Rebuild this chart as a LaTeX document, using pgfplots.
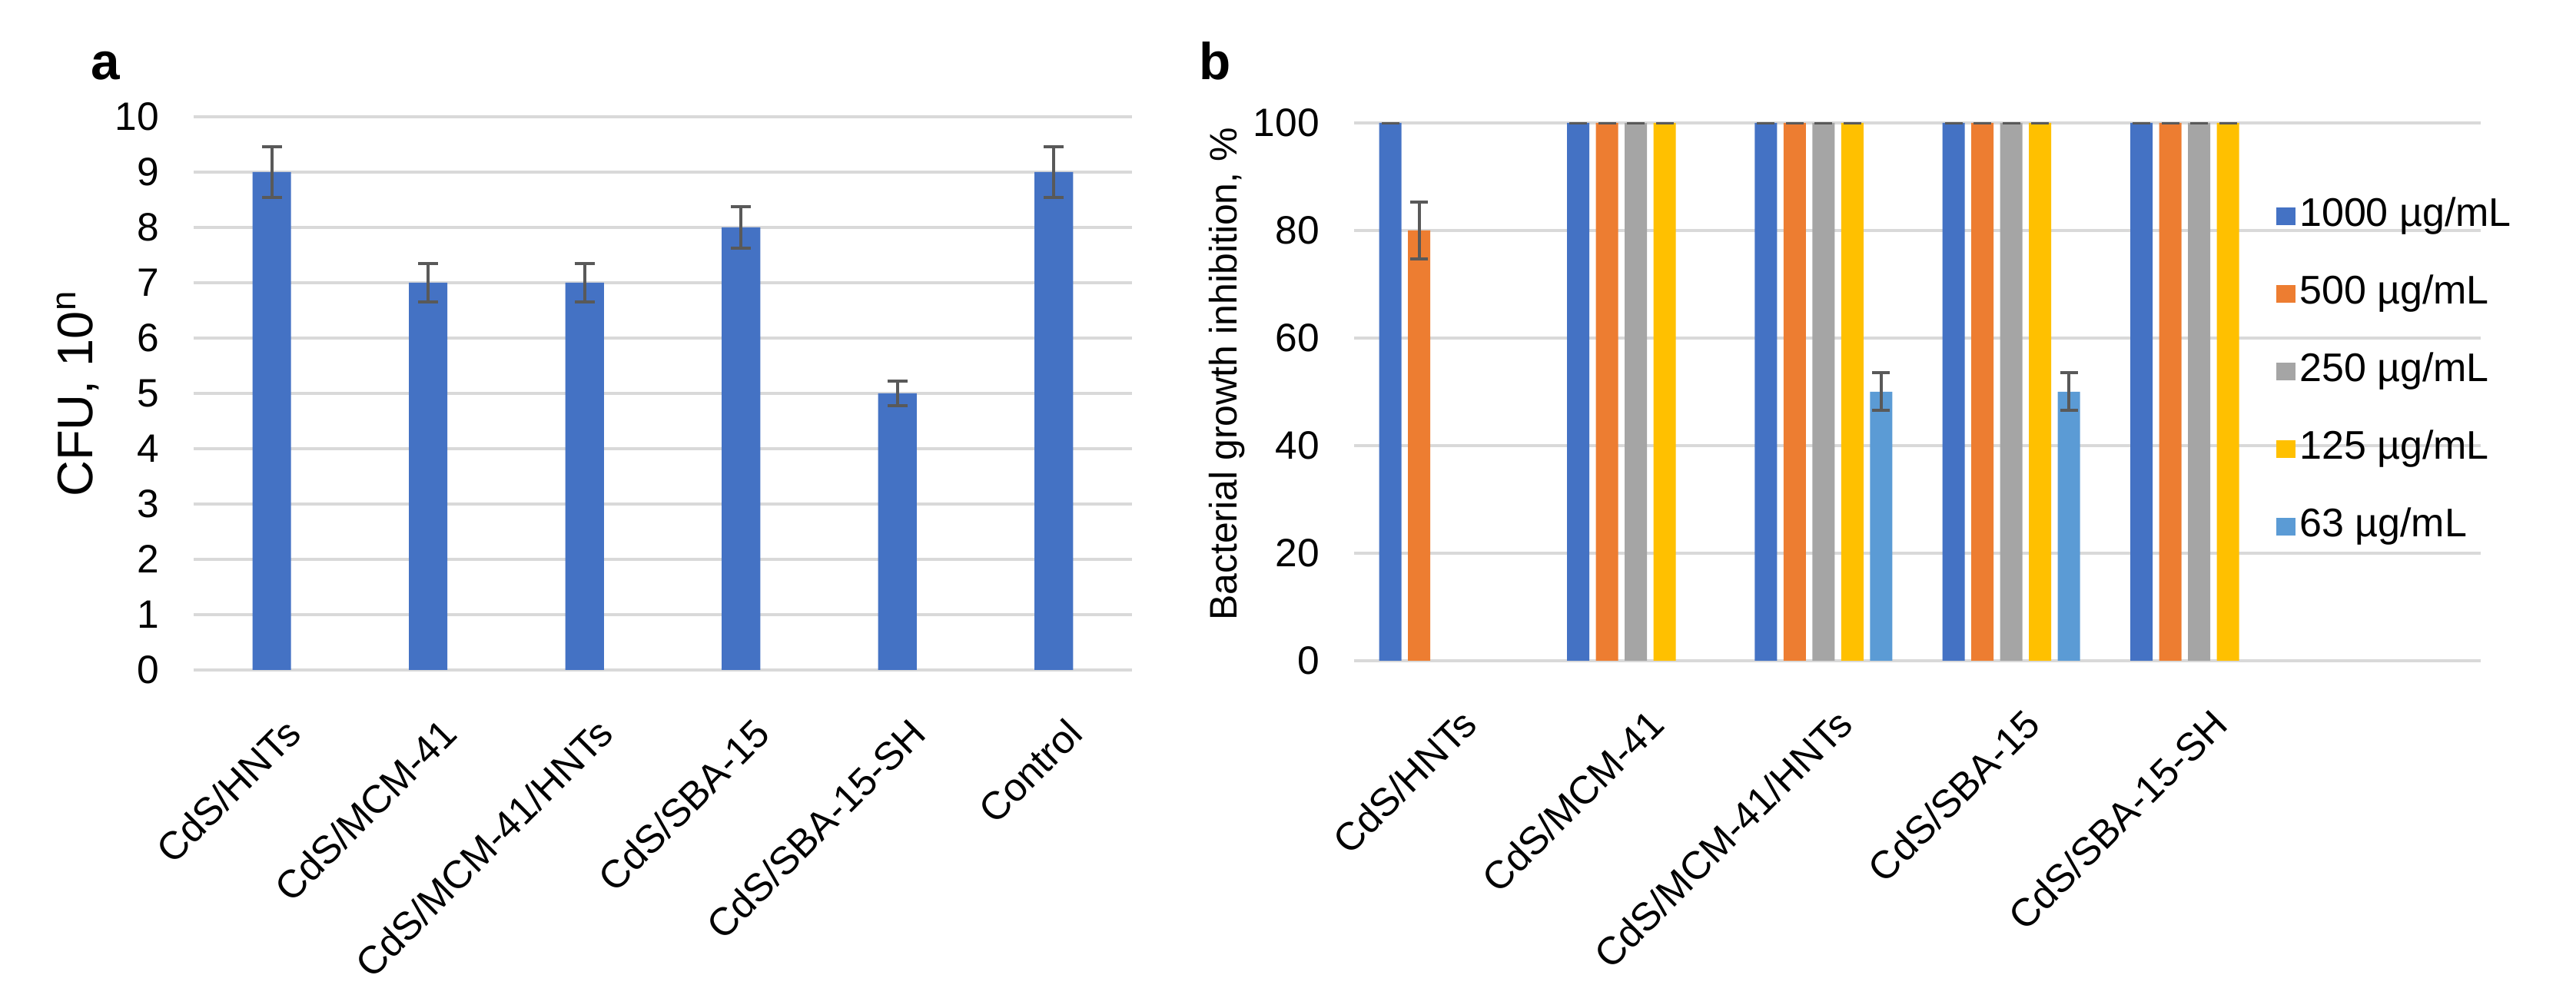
\documentclass[border=0pt]{standalone}
\usepackage{pgfplots}
\usepackage{pgfplotstable}
\pgfplotsset{compat=1.18}
\usepackage{fontspec}
\setmainfont{Liberation Sans}

\definecolor{xblue}{HTML}{4472C4}
\definecolor{xorange}{HTML}{ED7D31}
\definecolor{xgray}{HTML}{A5A5A5}
\definecolor{xgold}{HTML}{FFC000}
\definecolor{xlblue}{HTML}{5B9BD5}
\definecolor{gridc}{HTML}{D9D9D9}
\definecolor{errc}{HTML}{595959}

% panel a: CFU
\pgfplotstableread{
x y e
0 9 0.46
1 7 0.35
2 7 0.35
3 8 0.38
4 5 0.22
5 9 0.46
}\cfu

% panel b: inhibition, one table per concentration
\pgfplotstableread{
x y e
0 100 0
1 100 0
2 100 0
3 100 0
4 100 0
}\sA
\pgfplotstableread{
x y e
0 80 5.3
1 100 0
2 100 0
3 100 0
4 100 0
}\sB
\pgfplotstableread{
x y e
1 100 0
2 100 0
3 100 0
4 100 0
}\sC
\pgfplotstableread{
x y e
1 100 0
2 100 0
3 100 0
4 100 0
}\sD
\pgfplotstableread{
x y e
2 50 3.5
3 50 3.5
}\sE

\pgfplotsset{
  xl/.style={
    scale only axis,
    anchor=south west,
    axis line style={draw=none},
    tick style={draw=none},
    ymajorgrids,
    major grid style={line width=0.8pt, gridc},
    ybar,
    ymin=0,
    xmin=-0.5, xmax=5.5,
    /pgf/number format/assume math mode=true,
    yticklabel style={font=\fontsize{10.3}{12}\selectfont, xshift=-5.5pt},
    xticklabel style={font=\fontsize{10.2}{12}\selectfont, rotate=45, anchor=north east, yshift=-4pt},
  },
  eb/.style={
    error bars/.cd, y dir=both, y explicit,
    error bar style={draw=errc, line width=0.8pt},
    error mark options={rotate=90, mark size=#1, draw=errc, line width=0.8pt},
  },
}

\begin{document}
\begin{tikzpicture}
\useasboundingbox (0,0) rectangle (670.4pt,259pt);

\node[anchor=base west, inner sep=0pt, font=\bfseries\fontsize{13.5}{16}\selectfont] at (23.4pt,238.2pt) {a};
\node[anchor=base west, inner sep=0pt, font=\bfseries\fontsize{13.5}{16}\selectfont] at (311.8pt,238.2pt) {b};

\begin{axis}[xl,
  at={(50.4pt,84.6pt)}, width=244.2pt, height=144pt,
  ymax=10, ytick={0,...,10},
  bar width=10pt,
  xtick={0,...,5},
  xticklabels={CdS/HNTs,CdS/MCM-41,CdS/MCM-41/HNTs,CdS/SBA-15,CdS/SBA-15-SH,Control},
  ylabel={CFU, 10\textsuperscript{n}},
  ylabel style={at={(axis description cs:-0.108,0.5)}, anchor=base, font=\fontsize{13}{15}\selectfont},
]
\addplot[fill=xblue, draw=none, eb=2.6pt] table[x=x, y=y, y error=e] {\cfu};
\end{axis}

\begin{axis}[xl,
  at={(352.4pt,87pt)}, width=293.2pt, height=140pt,
  ymax=100, ytick={0,20,...,100},
  bar width=5.8pt, ybar=1.7pt,
  xtick={0,...,4},
  xticklabels={CdS/HNTs,CdS/MCM-41,CdS/MCM-41/HNTs,CdS/SBA-15,CdS/SBA-15-SH},
  ylabel={Bacterial growth inhibition, \%},
  ylabel style={at={(axis description cs:-0.1037,0.533)}, anchor=base, font=\fontsize{10}{12}\selectfont},
  legend cell align=left,
  legend image code/.code={\draw[#1,/tikz/.cd,draw=none] (0pt,-2.3pt) rectangle (5pt,2.3pt);},
  legend style={at={(0.818,0.538)}, anchor=west, draw=none, fill=none, inner sep=0pt,
    row sep=9pt, font=\fontsize{10.4}{12}\selectfont,
    nodes={inner sep=1pt, text height=7.2pt, text depth=2pt}},
]
\addplot[fill=xblue, draw=none, eb=2.3pt] table[x=x, y=y, y error=e] {\sA};
\addplot[fill=xorange, draw=none, eb=2.3pt] table[x=x, y=y, y error=e] {\sB};
\addplot[fill=xgray, draw=none, eb=2.3pt] table[x=x, y=y, y error=e] {\sC};
\addplot[fill=xgold, draw=none, eb=2.3pt] table[x=x, y=y, y error=e] {\sD};
\addplot[fill=xlblue, draw=none, eb=2.3pt] table[x=x, y=y, y error=e] {\sE};
\legend{1000 µg/mL,500 µg/mL,250 µg/mL,125 µg/mL,63 µg/mL}
\end{axis}
\end{tikzpicture}
\end{document}
